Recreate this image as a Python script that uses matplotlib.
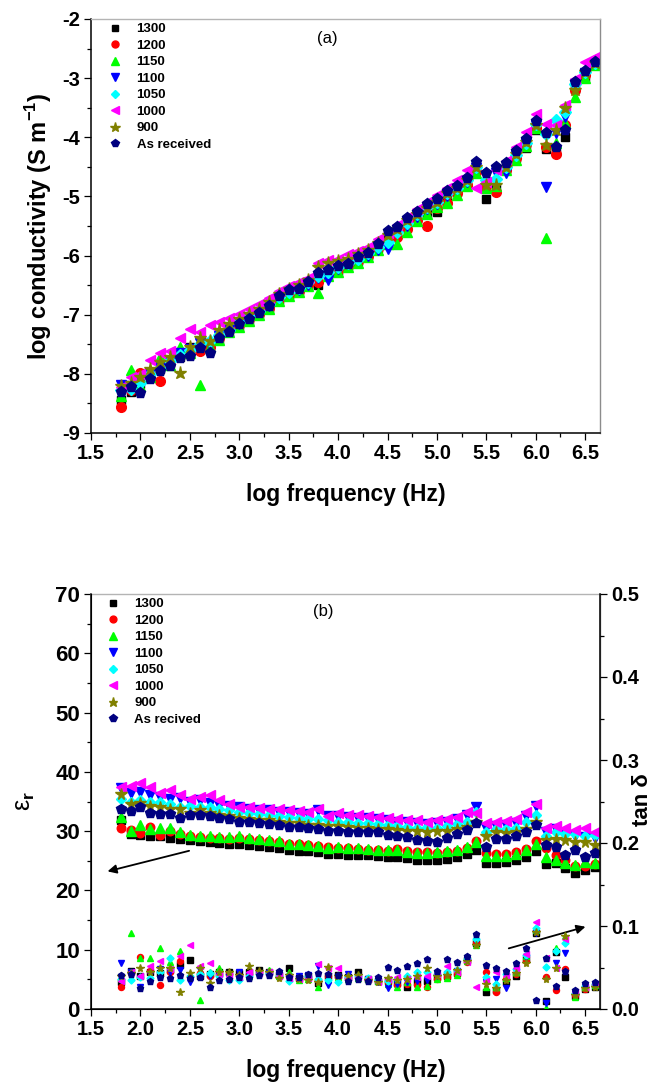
import matplotlib
matplotlib.use("Agg")
import matplotlib.pyplot as plt
from matplotlib.ticker import MultipleLocator, FormatStrFormatter

plt.rcParams['font.family'] = ['Liberation Sans', 'DejaVu Sans']
plt.rcParams['axes.unicode_minus'] = False
plt.rcParams['mathtext.fontset'] = 'custom'
plt.rcParams['mathtext.rm'] = 'Liberation Sans'
plt.rcParams['mathtext.bf'] = 'Liberation Sans:bold'

# log frequency (Hz)
log_freq = [1.8, 1.9, 2.0, 2.1, 2.2, 2.3, 2.4, 2.5, 2.6, 2.7,
            2.8, 2.9, 3.0, 3.1, 3.2, 3.3, 3.4, 3.5, 3.6, 3.7,
            3.8, 3.9, 4.0, 4.1, 4.2, 4.3, 4.4, 4.5, 4.6, 4.7,
            4.8, 4.9, 5.0, 5.1, 5.2, 5.3, 5.4, 5.5, 5.6, 5.7,
            5.8, 5.9, 6.0, 6.1, 6.2, 6.3, 6.4, 6.5, 6.6]

# (a) log conductivity
cond_1300 = [-8.44, -8.30, -8.17, -8.02, -7.92, -7.82, -7.72, -7.54, -7.55, -7.58,
             -7.42, -7.30, -7.20, -7.10, -7.00, -6.90, -6.75, -6.66, -6.62, -6.52,
             -6.50, -6.35, -6.26, -6.18, -6.10, -6.00, -5.88, -5.72, -5.65, -5.52,
             -5.38, -5.28, -5.26, -5.05, -4.92, -4.78, -4.55, -5.05, -4.85, -4.55,
             -4.35, -4.18, -3.88, -4.20, -4.25, -3.99, -3.18, -2.98, -2.76]
cond_1200 = [-8.56, -8.28, -7.98, -8.00, -8.12, -7.82, -7.70, -7.60, -7.62, -7.55,
             -7.40, -7.25, -7.18, -7.08, -6.98, -6.88, -6.74, -6.66, -6.60, -6.50,
             -6.45, -6.32, -6.25, -6.18, -6.10, -6.00, -5.88, -5.75, -5.68, -5.55,
             -5.40, -5.50, -5.20, -5.11, -4.95, -4.80, -4.58, -4.82, -4.92, -4.55,
             -4.35, -4.12, -3.85, -4.16, -4.28, -3.80, -3.20, -2.95, -2.76]
cond_1150 = [-8.38, -7.94, -8.20, -8.05, -7.72, -7.85, -7.55, -7.65, -8.18, -7.55,
             -7.42, -7.30, -7.20, -7.10, -7.00, -6.90, -6.76, -6.68, -6.62, -6.52,
             -6.64, -6.35, -6.28, -6.20, -6.12, -6.02, -5.90, -5.80, -5.80, -5.60,
             -5.42, -5.30, -5.18, -5.11, -4.98, -4.82, -4.60, -4.85, -4.82, -4.55,
             -4.38, -4.15, -3.85, -5.70, -4.10, -3.75, -3.32, -3.00, -2.78]
cond_1100 = [-8.19, -8.20, -8.12, -7.98, -7.88, -7.80, -7.65, -7.58, -7.48, -7.50,
             -7.36, -7.26, -7.15, -7.05, -6.95, -6.85, -6.72, -6.64, -6.58, -6.50,
             -6.38, -6.42, -6.22, -6.15, -6.08, -6.00, -5.90, -5.89, -5.62, -5.50,
             -5.35, -5.22, -5.12, -5.00, -4.88, -4.75, -4.52, -4.65, -4.61, -4.61,
             -4.30, -4.10, -3.80, -4.84, -3.93, -3.66, -3.10, -2.92, -2.75]
cond_1050 = [-8.28, -8.25, -8.15, -8.00, -7.90, -7.78, -7.68, -7.60, -7.50, -7.45,
             -7.35, -7.25, -7.12, -7.02, -6.93, -6.82, -6.70, -6.62, -6.55, -6.45,
             -6.35, -6.28, -6.20, -6.12, -6.05, -5.95, -5.86, -5.77, -5.60, -5.45,
             -5.30, -5.18, -5.10, -4.95, -4.85, -4.72, -4.50, -4.72, -4.70, -4.50,
             -4.30, -4.10, -3.78, -3.95, -3.71, -3.57, -3.10, -2.90, -2.74]
cond_1000 = [-8.22, -8.06, -8.00, -7.77, -7.64, -7.61, -7.39, -7.24, -7.29, -7.18,
             -7.12, -7.05, -6.99, -6.90, -6.82, -6.72, -6.60, -6.52, -6.45, -6.38,
             -6.12, -6.08, -6.05, -5.98, -5.92, -5.85, -5.72, -5.62, -5.48, -5.35,
             -5.22, -5.10, -4.98, -4.85, -4.72, -4.55, -4.86, -4.75, -4.55, -4.40,
             -4.16, -3.91, -3.60, -3.78, -3.79, -3.45, -3.01, -2.72, -2.64]
cond_900 = [-8.20, -8.15, -8.05, -7.92, -7.80, -7.71, -7.98, -7.55, -7.39, -7.45,
            -7.26, -7.16, -7.08, -6.98, -6.90, -6.78, -6.65, -6.56, -6.50, -6.42,
            -6.20, -6.12, -6.10, -6.05, -5.98, -5.90, -5.78, -5.65, -5.55, -5.40,
            -5.30, -5.20, -5.10, -4.95, -4.85, -4.72, -4.50, -4.81, -4.80, -4.50,
            -4.28, -4.08, -3.80, -4.13, -3.88, -3.51, -3.20, -2.90, -2.75]
cond_asrec = [-8.30, -8.22, -8.32, -8.09, -7.95, -7.87, -7.73, -7.70, -7.57, -7.64,
              -7.39, -7.29, -7.16, -7.07, -6.97, -6.85, -6.68, -6.58, -6.57, -6.44,
              -6.30, -6.24, -6.17, -6.14, -6.02, -5.95, -5.80, -5.58, -5.51, -5.37,
              -5.26, -5.13, -5.05, -4.90, -4.82, -4.68, -4.42, -4.60, -4.50, -4.44,
              -4.24, -4.03, -3.72, -3.93, -4.16, -3.88, -3.06, -2.88, -2.73]

# (b) relative permittivity
eps_1300 = [31.8, 29.5, 29.3, 29.1, 29.2, 28.8, 28.7, 28.5, 28.4, 28.2,
            28.0, 27.9, 27.8, 27.6, 27.5, 27.3, 27.1, 26.8, 26.7, 26.6,
            26.4, 26.2, 26.1, 26.0, 25.9, 25.9, 25.8, 25.7, 25.7, 25.5,
            25.1, 25.1, 25.1, 25.3, 25.6, 26.1, 26.9, 24.7, 24.6, 24.8,
            25.1, 25.6, 26.7, 24.5, 24.6, 23.8, 23.0, 23.4, 24.0]
eps_1200 = [30.5, 30.2, 29.7, 30.7, 29.3, 30.0, 29.6, 29.2, 29.0, 28.9,
            28.8, 28.7, 28.9, 28.6, 28.5, 28.4, 28.2, 27.9, 27.8, 27.7,
            27.5, 27.3, 27.1, 27.1, 27.0, 26.9, 26.8, 26.7, 27.0, 26.6,
            26.4, 26.4, 26.3, 26.5, 26.7, 27.1, 28.4, 26.3, 26.1, 26.2,
            26.4, 27.0, 28.3, 27.1, 26.0, 25.2, 24.1, 24.1, 24.5]
eps_1150 = [32.4, 30.0, 31.0, 30.3, 30.5, 30.6, 29.9, 29.3, 29.1, 29.2,
            29.0, 29.0, 29.1, 28.8, 28.6, 28.5, 28.3, 27.9, 27.8, 27.7,
            27.5, 27.2, 27.3, 27.2, 27.1, 27.0, 26.9, 26.9, 26.8, 26.5,
            26.3, 26.3, 26.4, 26.6, 26.8, 27.4, 28.2, 25.8, 25.8, 25.8,
            26.1, 26.8, 27.9, 25.7, 25.1, 24.6, 24.3, 24.8, 24.6]
eps_1100 = [37.2, 36.4, 36.6, 36.1, 35.8, 35.4, 35.6, 35.0, 35.2, 34.8,
            34.4, 34.2, 34.0, 33.8, 33.6, 33.5, 33.3, 33.2, 33.0, 32.9,
            33.5, 32.6, 32.6, 32.4, 32.3, 32.2, 32.0, 31.8, 31.6, 31.5,
            31.3, 31.2, 31.3, 31.6, 32.0, 32.8, 34.1, 30.6, 30.8, 31.0,
            31.4, 32.6, 34.3, 29.8, 30.3, 29.6, 29.2, 29.0, 28.8]
eps_1050 = [35.4, 35.0, 35.2, 34.9, 34.9, 34.5, 34.0, 34.3, 34.0, 34.0,
            33.7, 33.5, 33.3, 33.1, 32.9, 32.8, 32.6, 32.4, 32.3, 32.1,
            32.0, 31.8, 31.6, 31.5, 31.4, 31.3, 31.2, 31.0, 30.8, 30.7,
            30.6, 30.7, 30.5, 30.8, 31.2, 31.6, 33.3, 29.9, 30.3, 30.3,
            30.5, 31.6, 32.7, 29.1, 29.9, 29.5, 29.6, 29.1, 29.3]
eps_1000 = [37.4, 37.6, 38.1, 37.4, 36.5, 37.0, 36.1, 35.5, 35.7, 36.1,
            35.3, 34.6, 34.1, 34.0, 33.9, 33.8, 33.7, 33.6, 33.4, 33.2,
            33.8, 32.6, 33.0, 32.8, 32.7, 32.6, 32.4, 32.2, 32.0, 31.8,
            31.8, 31.6, 31.8, 32.0, 32.4, 33.3, 33.0, 31.4, 31.5, 31.7,
            32.0, 33.3, 34.6, 30.5, 30.9, 30.6, 30.2, 30.5, 29.8]
eps_900 = [36.3, 34.6, 34.8, 34.2, 34.1, 33.8, 33.8, 33.0, 33.6, 33.0,
           32.8, 32.5, 32.2, 32.1, 31.9, 31.8, 31.6, 31.4, 31.3, 31.1,
           31.0, 30.8, 30.8, 30.7, 30.6, 30.5, 30.4, 30.3, 30.2, 30.1,
           30.1, 29.8, 30.0, 30.1, 30.4, 30.7, 31.6, 29.1, 29.9, 29.7,
           29.9, 30.4, 31.5, 28.5, 28.7, 28.5, 28.2, 28.1, 27.7]
eps_asrec = [33.7, 33.4, 34.1, 33.1, 32.9, 32.9, 32.3, 32.7, 32.7, 32.6,
             32.3, 32.0, 31.6, 31.5, 31.3, 31.2, 31.0, 30.7, 30.7, 30.5,
             30.3, 30.1, 30.1, 29.9, 29.9, 29.9, 29.9, 29.3, 29.1, 29.0,
             28.5, 28.4, 28.2, 28.8, 29.5, 30.2, 31.3, 27.4, 28.7, 28.7,
             29.1, 29.9, 31.1, 27.7, 27.3, 26.0, 26.8, 25.7, 26.3]

# (b) loss tangent
tan_1300 = [.032, .046, .040, .044, .043, .047, .053, .059, .040, .042,
            .045, .044, .043, .045, .047, .045, .041, .049, .037, .040,
            .031, .040, .041, .038, .044, .036, .034, .034, .031, .026,
            .033, .034, .038, .040, .043, .059, .080, .020, .023, .032,
            .040, .060, .091, .010, .069, .038, .016, .024, .027]
tan_1200 = [.026, .043, .063, .046, .029, .045, .058, .039, .043, .040,
            .041, .042, .040, .042, .043, .044, .038, .040, .036, .038,
            .035, .040, .039, .037, .038, .035, .034, .032, .029, .030,
            .029, .027, .036, .038, .042, .057, .079, .045, .021, .036,
            .042, .058, .094, .038, .023, .048, .017, .024, .029]
tan_1150 = [.037, .092, .062, .061, .074, .057, .070, .040, .011, .044,
            .049, .043, .040, .040, .044, .047, .040, .045, .035, .036,
            .026, .036, .038, .036, .037, .036, .034, .030, .027, .033,
            .026, .028, .036, .037, .041, .058, .077, .027, .027, .037,
            .045, .064, .095, .001, .074, .088, .015, .026, .029]
tan_1100 = [.056, .045, .027, .042, .048, .044, .047, .032, .047, .040,
            .040, .039, .044, .041, .042, .043, .041, .039, .040, .041,
            .052, .029, .038, .042, .039, .036, .033, .025, .030, .032,
            .034, .035, .040, .042, .046, .060, .082, .032, .036, .025,
            .045, .063, .092, .007, .056, .068, .018, .027, .028]
tan_1050 = [.036, .035, .038, .037, .044, .062, .035, .040, .042, .043,
            .040, .035, .035, .040, .042, .043, .040, .034, .037, .040,
            .036, .035, .033, .038, .040, .037, .035, .034, .036, .040,
            .045, .044, .042, .044, .047, .060, .084, .038, .030, .042,
            .048, .065, .098, .051, .070, .080, .019, .028, .030]
tan_1000 = [.034, .044, .040, .052, .058, .048, .064, .077, .052, .055,
            .042, .040, .038, .045, .043, .044, .040, .037, .036, .037,
            .054, .050, .049, .037, .038, .036, .033, .036, .038, .036,
            .039, .040, .042, .052, .045, .057, .026, .034, .045, .040,
            .050, .066, .105, .062, .049, .084, .020, .026, .030]
tan_900 = [.040, .043, .049, .044, .049, .050, .020, .043, .050, .031,
           .044, .044, .041, .052, .046, .045, .037, .041, .036, .035,
           .033, .051, .040, .040, .041, .035, .033, .037, .035, .036,
           .040, .050, .040, .041, .047, .058, .077, .030, .025, .035,
           .043, .056, .093, .036, .050, .088, .017, .025, .027]
tan_asrec = [.041, .042, .025, .034, .038, .037, .041, .037, .038, .026,
             .035, .036, .038, .037, .041, .041, .046, .039, .039, .042,
             .043, .042, .041, .034, .036, .034, .038, .051, .047, .052,
             .055, .060, .046, .060, .057, .064, .090, .053, .049, .046,
             .056, .074, .011, .061, .028, .046, .023, .031, .032]

labels_a = ["1300", "1200", "1150", "1100", "1050", "1000", "900", "As received"]
labels_b = ["1300", "1200", "1150", "1100", "1050", "1000", "900", "As recived"]
colors = ["#000000", "#ff0000", "#00ff00", "#0000ff", "#00ffff", "#ff00ff", "#808000", "#000080"]
markers = ["s", "o", "^", "v", "D", "<", "*", "p"]
msizes = [6.0, 7.0, 7.5, 7.5, 5.8, 7.5, 9.5, 8.0]

cond_series = [cond_1300, cond_1200, cond_1150, cond_1100, cond_1050, cond_1000, cond_900, cond_asrec]
eps_series = [eps_1300, eps_1200, eps_1150, eps_1100, eps_1050, eps_1000, eps_900, eps_asrec]
tan_series = [tan_1300, tan_1200, tan_1150, tan_1100, tan_1050, tan_1000, tan_900, tan_asrec]

W, H = 655, 1088
fig = plt.figure(figsize=(W / 100, H / 100), dpi=100)
ax_a = fig.add_axes([91 / W, 1 - 433 / H, 509 / W, 414 / H])
ax_b = fig.add_axes([91 / W, 1 - 1009 / H, 509 / W, 415 / H])
ax_t = ax_b.twinx()


def style_axis(ax, ylo, yhi, ymaj, ymin, yfmt):
    ax.set_xlim(1.5, 6.65)
    ax.set_ylim(ylo, yhi)
    ax.xaxis.set_major_locator(MultipleLocator(0.5))
    ax.xaxis.set_minor_locator(MultipleLocator(0.25))
    ax.yaxis.set_major_locator(MultipleLocator(ymaj))
    ax.yaxis.set_minor_locator(MultipleLocator(ymin))
    ax.xaxis.set_major_formatter(FormatStrFormatter('%.1f'))
    ax.yaxis.set_major_formatter(FormatStrFormatter(yfmt))
    ax.tick_params(which='both', direction='out', width=0.9, top=False, right=False)
    ax.tick_params(which='major', length=5, pad=3)
    ax.tick_params(which='minor', length=3)
    for lab in ax.get_xticklabels() + ax.get_yticklabels():
        lab.set_fontsize(14.5)
        lab.set_fontweight('bold')
    for s in ['left', 'bottom']:
        ax.spines[s].set_linewidth(1.1)
    ax.spines['top'].set_color('#b4b4b4')
    ax.spines['top'].set_linewidth(1.0)
    ax.spines['right'].set_color('#8c8c8c')
    ax.spines['right'].set_linewidth(1.0)


# ---- panel (a)
for vals, lab, col, mk, ms in zip(cond_series, labels_a, colors, markers, msizes):
    ax_a.plot(log_freq, vals, ls='none', marker=mk, ms=ms, color=col, mec=col, label=lab)
style_axis(ax_a, -9, -2, 1, 0.5, '%d')
ax_a.set_xlabel("log frequency (Hz)", fontsize=16.5, fontweight='bold', labelpad=14)
ax_a.set_ylabel("log conductivity (S m$^{\\mathbf{-1}}$)", fontsize=17, fontweight='bold', labelpad=6)
ax_a.text(0.464, 0.954, "(a)", transform=ax_a.transAxes, fontsize=12, ha='center', va='center')
ax_a.legend(loc='upper left', bbox_to_anchor=(0.035, 0.99), frameon=False, numpoints=1,
            handlelength=1.0, handletextpad=1.1, labelspacing=0.32, borderpad=0, borderaxespad=0,
            prop={'weight': 'bold', 'size': 9.5}, markerscale=0.72)

# ---- panel (b)
for vals, lab, col, mk, ms in zip(eps_series, labels_b, colors, markers, msizes):
    ax_b.plot(log_freq, vals, ls='none', marker=mk, ms=ms * 0.88, color=col, mec=col, label=lab)
for vals, col, mk, ms in zip(tan_series, colors, markers, msizes):
    ax_t.plot(log_freq, vals, ls='none', marker=mk, ms=ms * 0.62, color=col, mec=col)
style_axis(ax_b, 0, 70, 10, 5, '%d')
for lab in ax_b.get_yticklabels():
    lab.set_fontsize(16)
ax_t.set_ylim(0, 0.5)
ax_t.yaxis.set_major_locator(MultipleLocator(0.1))
ax_t.yaxis.set_minor_locator(MultipleLocator(0.05))
ax_t.yaxis.set_major_formatter(FormatStrFormatter('%.1f'))
ax_t.tick_params(which='both', direction='out', width=0.9)
ax_t.tick_params(which='major', length=5, pad=3)
ax_t.tick_params(which='minor', length=3)
for lab in ax_t.get_yticklabels():
    lab.set_fontsize(14.5)
    lab.set_fontweight('bold')
ax_t.spines['right'].set_linewidth(1.1)
ax_t.spines['right'].set_color('black')
ax_t.spines['top'].set_visible(False)

ax_b.set_xlabel("log frequency (Hz)", fontsize=16.5, fontweight='bold', labelpad=14)
ax_b.set_ylabel("ε$_{\\mathbf{r}}$", fontsize=18, labelpad=13)
# right-axis label sits between the tick labels, as in the original layout
fig.text(643 / W, 1 - 800 / H, "tan δ", rotation=90, ha='center', va='center',
         fontsize=16, fontweight='bold')
ax_b.text(0.456, 0.959, "(b)", transform=ax_b.transAxes, fontsize=12, ha='center', va='center')
ax_b.legend(loc='upper left', bbox_to_anchor=(0.031, 0.99), frameon=False, numpoints=1,
            handlelength=1.0, handletextpad=1.1, labelspacing=0.32, borderpad=0, borderaxespad=0,
            prop={'weight': 'bold', 'size': 9.5}, markerscale=0.8)

# arrows pointing each group of points to its axis
arrow_style = dict(arrowstyle='-|>', color='black', lw=1.3, mutation_scale=13)
ax_b.annotate('', xy=(1.64, 23.1), xytext=(2.52, 26.8), arrowprops=arrow_style)
ax_b.annotate('', xy=(6.53, 14.0), xytext=(5.70, 10.1), arrowprops=arrow_style)

fig.savefig("out.png", dpi=100)
